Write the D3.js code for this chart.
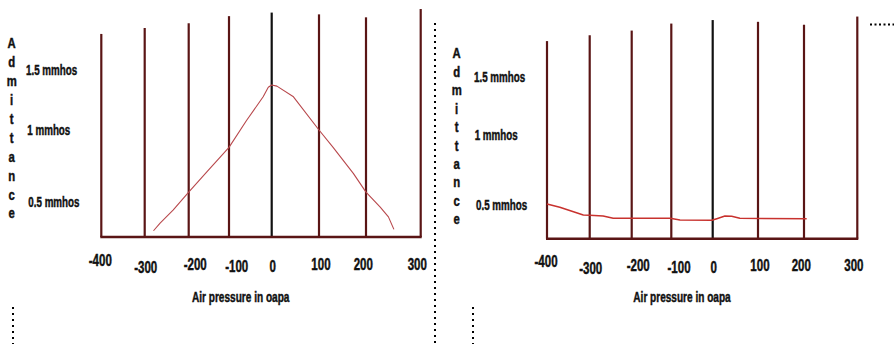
<!DOCTYPE html>
<html>
<head>
<meta charset="utf-8">
<script src="https://cdn.jsdelivr.net/npm/d3@7"></script>
<style>
  html, body { margin: 0; padding: 0; background: #fff; }
  svg { display: block; }
  text { font-family: "Liberation Sans", Arial, sans-serif; font-weight: bold; fill: #111; stroke: #111; stroke-width: 0.45px; }
</style>
</head>
<body>
<svg id="chart" width="894" height="344"></svg>
<script>
// ---------- DATA ----------
const pressureCategories = [-400, -300, -200, -100, 0, 100, 200, 300];
const tickLabels = ["-400", "-300", "-200", "-100", "0", "100", "200", "300"];
const admittanceLabelValues = [1.5, 1, 0.5];
const admittanceLabels = ["1.5 mmhos", "1 mmhos", "0.5 mmhos"];
const yAxisTitle = "Admittance";
const xAxisTitle = "Air pressure in oapa";
// top of each hand-drawn vertical line, in admittance units
const gridTops = [1.81, 1.86, 1.90, 1.96, 1.99, 1.975, 1.95, 2.02];

// left panel: peaked tympanogram
const leftPressure   = [-280, -265, -235, -200, -155, -100, -59, -20, -8, 0, 11, 46, 100, 130, 173, 200, 226, 241, 251];
const leftAdmittance = [0.09, 0.20, 0.39, 0.57, 0.71, 0.88, 1.08, 1.28, 1.36, 1.38, 1.37, 1.28, 1.00, 0.88, 0.70, 0.57, 0.43, 0.29, 0.11];

// right panel: flat tympanogram
const rightPressure   = [-400, -370, -338, -315, -300, -268, -244, -103, -79, -2, 9, 27, 42, 60, 205];
const rightAdmittance = [0.507, 0.466, 0.40, 0.352, 0.347, 0.337, 0.303, 0.303, 0.277, 0.273, 0.297, 0.337, 0.332, 0.303, 0.297];

// ---------- LAYOUT (hand-drawn, uneven spacing) ----------
const labelDx = [-1, 1, 6.5, 7.7, 1, 2, -2.7, -3.4];
const labelDy = [-4.5, 2.3, 0, 1.4, 1.4, -0.3, -0.3, -0.3];

const panels = [
  {
    xRange: [101.3, 144.7, 188.7, 229, 271.7, 319, 366, 420.7],
    yRange: [237, 202.3, 130, 70.7],
    pressure: leftPressure, admittance: leftAdmittance,
    curveColor: "#b8484c", curveWidth: 1.1,
    letterX: 11.7, letterY0: 43.3, letterStep: 18.9,
    valueLabelX: [26, 27.3, 28.3],
    tickY: 264.5, titleX: 240.7, titleY: 297
  },
  {
    xRange: [547, 589.7, 631.7, 671.3, 712.7, 758, 804, 857.3],
    yRange: [238.7, 205, 135.7, 77.3],
    pressure: rightPressure, admittance: rightAdmittance,
    curveColor: "#c8322e", curveWidth: 1.5,
    letterX: 456.7, letterY0: 53.3, letterStep: 18.45,
    valueLabelX: [474, 474.7, 476],
    tickY: 265.5, titleX: 682, titleY: 297
  }
];

const svg = d3.select("#chart");

// condensed text helper: place at (x,y), squeeze horizontally
function condensedText(sel, x, y, str, size, sx, anchor) {
  sel.append("g")
    .attr("transform", `translate(${x},${y}) scale(${sx},1)`)
    .append("text")
    .attr("text-anchor", anchor)
    .attr("dominant-baseline", "central")
    .style("font-size", size + "px")
    .text(str);
}

panels.forEach(p => {
  const x = d3.scaleLinear().domain(pressureCategories).range(p.xRange);
  const y = d3.scaleLinear().domain([0, 0.5, 1, 1.5]).range(p.yRange);
  const g = svg.append("g");

  // vertical lines
  g.selectAll("line.v").data(pressureCategories).join("line")
    .attr("class", "v")
    .attr("x1", d => x(d)).attr("x2", d => x(d))
    .attr("y1", y(0)).attr("y2", (d, i) => y(gridTops[i]))
    .attr("stroke", d => d === 0 ? "#111" : "#5a1515")
    .attr("stroke-width", 2.2);

  // baseline
  g.append("line")
    .attr("x1", x(pressureCategories[0]) - 1).attr("x2", x(pressureCategories[pressureCategories.length - 1]) + 1)
    .attr("y1", y(0)).attr("y2", y(0))
    .attr("stroke", "#5a1515").attr("stroke-width", 2.6);

  // curve
  const pts = p.pressure.map((v, i) => [v, p.admittance[i]]);
  g.append("path")
    .datum(pts)
    .attr("d", d3.line().x(d => x(d[0])).y(d => y(d[1])))
    .attr("fill", "none")
    .attr("stroke", p.curveColor)
    .attr("stroke-width", p.curveWidth)
    .attr("stroke-linejoin", "round");

  // x tick labels
  pressureCategories.forEach((d, i) => {
    condensedText(g, x(d) + labelDx[i], p.tickY + labelDy[i], tickLabels[i], 16.5, 0.7, "middle");
  });

  // admittance value labels
  admittanceLabelValues.forEach((d, i) => {
    condensedText(g, p.valueLabelX[i], y(d), admittanceLabels[i], 14, 0.7, "start");
  });

  // vertical y-axis title, letter by letter
  yAxisTitle.split("").forEach((ch, i) => {
    condensedText(g, p.letterX, p.letterY0 + i * p.letterStep, ch, 14.5, 0.78, "middle");
  });

  // x title
  condensedText(g, p.titleX, p.titleY, xAxisTitle, 14, 0.72, "middle");
});

// dotted separators
const dotted = [
  { x1: 435, y1: 23, x2: 435, y2: 344, dash: "2,4" },
  { x1: 13, y1: 307, x2: 13, y2: 344, dash: "2,4" },
  { x1: 473, y1: 307, x2: 473, y2: 344, dash: "2,4" },
  { x1: 870, y1: 24.5, x2: 894, y2: 24.5, dash: "2,2.5" }
];
svg.selectAll("line.dot").data(dotted).join("line")
  .attr("class", "dot")
  .attr("x1", d => d.x1).attr("y1", d => d.y1)
  .attr("x2", d => d.x2).attr("y2", d => d.y2)
  .attr("stroke", "#000").attr("stroke-width", 2)
  .attr("stroke-dasharray", d => d.dash);
</script>
</body>
</html>
